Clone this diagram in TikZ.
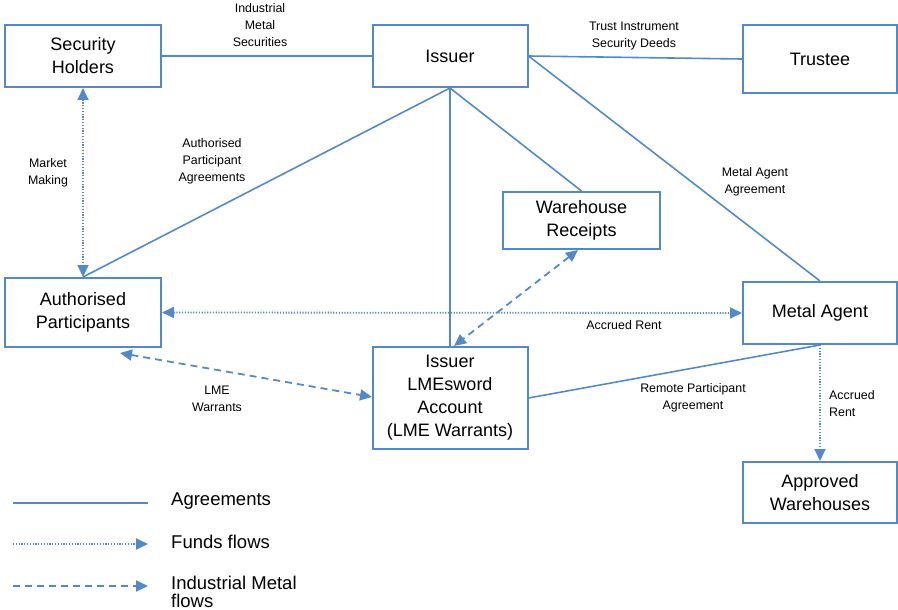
\documentclass[tikz,border=0pt]{standalone}
\usepackage{fontspec}
\setmainfont{Liberation Sans}
\usetikzlibrary{arrows.meta}
\definecolor{lblue}{RGB}{84,137,200}
\tikzset{
  box/.style={draw=lblue, line width=2pt, align=center, inner sep=0pt,
    font=\fontsize{18}{23}\selectfont},
  agr/.style={draw=lblue, line width=1.6pt},
  fund/.style={draw=lblue, line width=1.8pt, dash pattern=on 1.2pt off 1.6pt},
  metal/.style={draw=lblue, line width=1.8pt, dash pattern=on 7pt off 5pt},
  tip/.style={-{Triangle[length=12pt,width=11pt]}},
  tips/.style={{Triangle[length=12pt,width=11pt]}-{Triangle[length=12pt,width=11pt]}},
  lbl/.style={align=center, inner sep=0pt, font=\fontsize{12.4}{17}\selectfont},
  leg/.style={anchor=west, inner sep=0pt, align=left, font=\fontsize{18.5}{18}\selectfont}
}
\begin{document}
\begin{tikzpicture}[x=1pt,y=-1pt]
\useasboundingbox (0,0) rectangle (898,610);
% boxes
\node[box, minimum width=156pt, minimum height=62pt] (SH) at (83,56) {Security\\Holders};
\node[box, minimum width=155pt, minimum height=62pt] (IS) at (450,56) {Issuer};
\node[box, minimum width=154pt, minimum height=68pt] (TR) at (820,59) {Trustee};
\node[box, minimum width=157pt, minimum height=57pt] (WR) at (581.5,220.5) {Warehouse\\Receipts};
\node[box, minimum width=156pt, minimum height=69pt] (AP) at (83,312.5) {Authorised\\Participants};
\node[box, minimum width=155pt, minimum height=102pt] (LM) at (450,398) {Issuer\\LMEsword\\Account\\(LME Warrants)};
\node[box, minimum width=154pt, minimum height=62pt] (MA) at (820,313) {Metal Agent};
\node[box, minimum width=154pt, minimum height=61pt] (AW) at (820,492.5) {Approved\\Warehouses};
% agreements
\draw[agr] (SH.east) -- (IS.west);
\draw[agr] (IS.east) -- (TR.west);
\draw[agr] (IS.south) -- (AP.north);
\draw[agr] (IS.south) -- (LM.north);
\draw[agr] (IS.south) -- (WR.north);
\draw[agr] (IS.east) -- (MA.north);
\draw[agr] (MA.south) -- (LM.east);
% funds flows
\draw[fund, tips] (SH.south) -- (AP.north);
\draw[fund, tips] (AP.east) -- (MA.west);
\draw[fund, tip] (MA.south) -- (AW.north);
% metal flows
\coordinate (apb) at (120,353);
\coordinate (lmw) at (372,397);
\coordinate (wrb) at (578,250);
\coordinate (lmn) at (454,346);
\draw[metal, tips] (apb) -- (lmw);
\draw[metal, tips] (wrb) -- (lmn);
% labels
\node[lbl] (l1) at (260,25) {Industrial\\Metal\\Securities};
\node[lbl] (l2) at (634,36) {Trust Instrument\\Security Deeds};
\node[lbl] (l3) at (48,173) {Market\\Making};
\node[lbl] (l4) at (212,161) {Authorised\\Participant\\Agreements};
\node[lbl] (l5) at (755,182) {Metal Agent\\Agreement};
\node[lbl] (l6) at (624,325) {Accrued Rent};
\node[lbl] (l7) at (217,399) {LME\\Warrants};
\node[lbl] (l8) at (693,398) {Remote Participant\\Agreement};
\node[lbl, align=left, anchor=west] (l9) at (829,404) {Accrued\\Rent};
% legend
\coordinate (a1) at (13,503); \coordinate (a2) at (148,503);
\coordinate (b1) at (13,544); \coordinate (b2) at (148,544);
\coordinate (c1) at (13,586); \coordinate (c2) at (148,586);
\draw[agr] (a1) -- (a2);
\draw[fund, tip] (b1) -- (b2);
\draw[metal, tip] (c1) -- (c2);
\node[leg] (t1) at (171,501) {Agreements};
\node[leg] (t2) at (171,542) {Funds flows};
\node[leg] (t3) at (171,592) {Industrial Metal\\flows};
\end{tikzpicture}
\end{document}
